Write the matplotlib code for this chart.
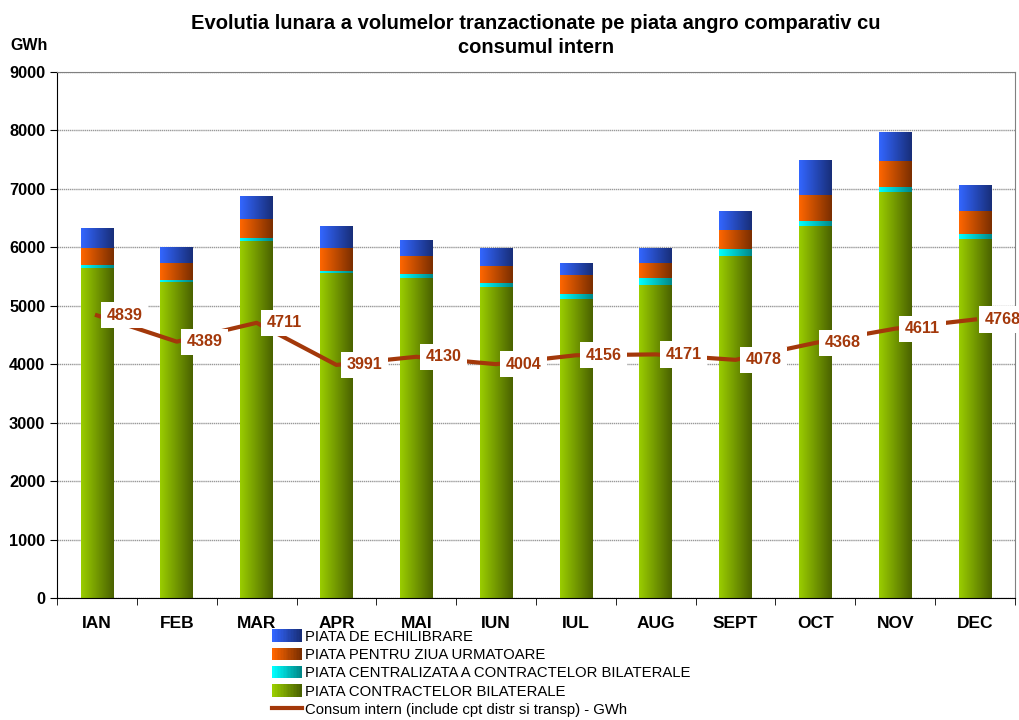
import numpy as np
import matplotlib
matplotlib.use("Agg")
import matplotlib.pyplot as plt
from matplotlib.colors import LinearSegmentedColormap
from matplotlib.legend_handler import HandlerBase
from matplotlib.patches import Rectangle
from matplotlib.lines import Line2D

plt.rcParams["font.family"] = ["Liberation Sans", "DejaVu Sans"]

months = ["IAN", "FEB", "MAR", "APR", "MAI", "IUN", "IUL", "AUG", "SEPT", "OCT", "NOV", "DEC"]
bilaterale = [5652, 5407, 6109, 5556, 5476, 5322, 5116, 5356, 5858, 6371, 6953, 6143]
centralizata = [46, 34, 53, 45, 74, 68, 86, 125, 114, 80, 80, 91]
ziua_urm = [297, 291, 323, 394, 302, 297, 320, 251, 325, 450, 445, 383]
echilibrare = [336, 274, 394, 370, 274, 308, 210, 263, 320, 594, 496, 450]
consum = [4839, 4389, 4711, 3991, 4130, 4004, 4156, 4171, 4078, 4368, 4611, 4768]

series_names = ["PIATA CONTRACTELOR BILATERALE",
                "PIATA CENTRALIZATA A CONTRACTELOR BILATERALE",
                "PIATA PENTRU ZIUA URMATOARE",
                "PIATA DE ECHILIBRARE"]
line_name = "Consum intern (include cpt distr si transp) - GWh"

# light (left) -> dark (right) gradient for each stacked series
grad = [("#9ACD00", "#4A6200"),
        ("#00FFFF", "#008888"),
        ("#FF6600", "#7A2E00"),
        ("#3366FF", "#182E78")]
line_color = "#A3380A"


class GradientHandler(HandlerBase):
    def __init__(self, c0, c1, n=20):
        super().__init__()
        self.cmap = LinearSegmentedColormap.from_list("g", [c0, c1])
        self.n = n

    def create_artists(self, legend, orig_handle, xdescent, ydescent,
                       width, height, fontsize, trans):
        arts = []
        w = width / self.n
        for i in range(self.n):
            r = Rectangle((-xdescent + i * w, -ydescent), w * 1.05, height,
                          facecolor=self.cmap(i / (self.n - 1)), edgecolor="none",
                          transform=trans)
            arts.append(r)
        return arts


fig = plt.figure(figsize=(10.19, 7.2), dpi=100)
ax = fig.add_axes([0.056, 0.169, 0.94, 0.731])

x = np.arange(len(months))
width = 0.41
bottom = np.zeros(len(months))
grad_img = np.linspace(0, 1, 64).reshape(1, -1)
handles = []
for vals, name, (c0, c1) in zip([bilaterale, centralizata, ziua_urm, echilibrare],
                                series_names, grad):
    cmap = LinearSegmentedColormap.from_list(name, [c0, c1])
    bars = ax.bar(x, vals, width, bottom=bottom, color="none", edgecolor="none",
                  zorder=2, label=name)
    for b in bars:
        x0, y0 = b.get_x(), b.get_y()
        im = ax.imshow(grad_img, cmap=cmap, aspect="auto", zorder=2,
                       extent=[x0, x0 + b.get_width(), y0, y0 + b.get_height()],
                       interpolation="bilinear")
        im.set_clip_path(b)
    handles.append(bars)
    bottom += np.array(vals)

ax.plot(x, consum, color=line_color, lw=3, zorder=3)
for xi, v in zip(x, consum):
    ax.annotate(str(v), (xi, v), xytext=(7, 0), textcoords="offset points",
                ha="left", va="center", fontsize=11.6, fontweight="bold",
                color=line_color, zorder=4, annotation_clip=False,
                bbox=dict(boxstyle="square,pad=0.35", fc="white", ec="none"))

ax.set_xlim(-0.5, len(months) - 0.5)
ax.set_ylim(0, 9000)
ax.set_yticks(np.arange(0, 9001, 1000))
ax.set_xticks(x)
ax.set_xticklabels(months, fontsize=12.5, fontweight="bold")
ax.set_xticks(np.arange(-0.5, len(months), 1), minor=True)
ax.tick_params(axis="x", which="major", length=0, pad=13)
ax.tick_params(axis="x", which="minor", length=5, direction="out")
ax.tick_params(axis="y", length=5, direction="out")
for lab in ax.get_yticklabels():
    lab.set_fontweight("bold")
    lab.set_fontsize(11.8)
ax.yaxis.grid(True, color="#999999", lw=1, linestyle=(0, (1, 0.5)), zorder=0)
ax.set_axisbelow(True)
for s in ["top", "right"]:
    ax.spines[s].set_color("#808080")
ax.spines["left"].set_color("black")
ax.spines["bottom"].set_color("black")

ax.set_title("Evolutia lunara a volumelor tranzactionate pe piata angro comparativ cu\nconsumul intern",
             fontsize=14.5, fontweight="bold", pad=14, linespacing=1.3)
fig.text(0.01, 0.93, "GWh", fontsize=11.5, fontweight="bold")

line_handle = Line2D([0], [0], color=line_color, lw=3)
leg_handles = [handles[3], handles[2], handles[1], handles[0], line_handle]
leg_labels = [series_names[3], series_names[2], series_names[1], series_names[0], line_name]
handler_map = {handles[i]: GradientHandler(*grad[i]) for i in range(4)}
fig.legend(leg_handles, leg_labels, handler_map=handler_map, loc="upper left",
           bbox_to_anchor=(0.267, 0.126), frameon=False, fontsize=10.75,
           handlelength=2.0, handleheight=0.9, handletextpad=0.2, labelspacing=0.27,
           borderpad=0, borderaxespad=0)

fig.savefig("out.png", dpi=100)
